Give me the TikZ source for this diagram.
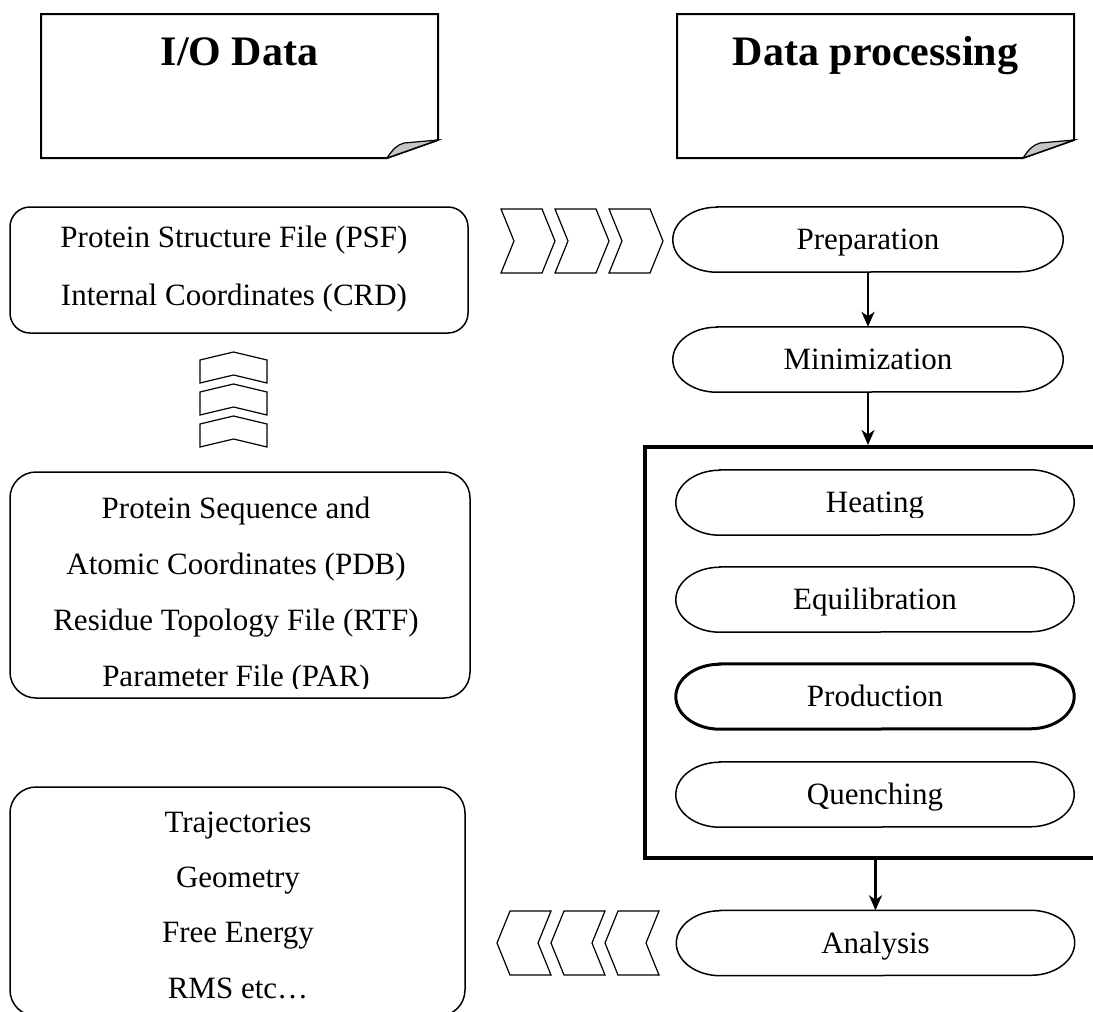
\documentclass[tikz,border=0pt]{standalone}
\usepackage{fontspec}
\setmainfont{Liberation Serif}
\usetikzlibrary{arrows.meta}
\newcommand{\stadium}[2]{%
  \draw[#2] ([xshift=44pt]#1.north west) -- ([xshift=-44pt]#1.north east)
    arc[start angle=-90, end angle=90, x radius=44, y radius=32.5]
    -- ([xshift=44pt]#1.south west)
    arc[start angle=90, end angle=270, x radius=44, y radius=32.5] -- cycle;}
\newcommand{\chevright}[3]{% x0, top, bottom
  \draw[chev] (#1,#2) -- ++(41,0) -- (#1+54,{(#2+#3)/2}) -- (#1+41,#3) -- (#1,#3) -- (#1+13,{(#2+#3)/2}) -- cycle;}
\newcommand{\chevleft}[3]{% x0, top, bottom
  \draw[chev] (#1,{(#2+#3)/2}) -- (#1+13,#2) -- (#1+54,#2) -- (#1+41,{(#2+#3)/2}) -- (#1+54,#3) -- (#1+13,#3) -- cycle;}
\newcommand{\chevup}[1]{% peak y
  \draw[chev] (233.5,#1) -- (267,#1+8) -- (267,#1+31) -- (233.5,#1+23) -- (200,#1+31) -- (200,#1+8) -- cycle;}
\begin{document}
\begin{tikzpicture}[x=1pt,y=-1pt,
  titletext/.style={font=\fontsize{42}{50}\selectfont\bfseries, anchor=base, inner sep=0pt},
  body/.style={font=\fontsize{31}{36}\selectfont, anchor=base, inner sep=0pt},
  iobox/.style={draw, line width=1.5pt},
  oval/.style={minimum width=390pt, minimum height=65pt, inner sep=0pt,
    font=\fontsize{31}{36}\selectfont, text height=20.5pt, text depth=0pt},
  ovalline/.style={line width=1.5pt},
  chev/.style={draw, line width=1.2pt, line join=miter},
  flow/.style={line width=2.4pt, -{Stealth[length=15pt,width=13pt,inset=4.5pt]}},
  notefold/.style={fill=gray!45, draw, line width=1.2pt}]
\clip (0,0) rectangle (1093,1012);
\fill[white] (0,0) rectangle (1093,1012);

% title notes
\draw[line width=2pt] (41,14) -- (438,14) -- (438,140) -- (387,158) -- (41,158) -- cycle;
\filldraw[notefold] (387,158) .. controls (393,149) and (397,145) .. (404,143) -- (438,140) -- cycle;
\node[titletext] (iotitle) at (239.5,65) {I/O Data};

\draw[line width=2pt] (677,14) -- (1074,14) -- (1074,140) -- (1023,158) -- (677,158) -- cycle;
\filldraw[notefold] (1023,158) .. controls (1029,149) and (1033,145) .. (1040,143) -- (1074,140) -- cycle;
\node[titletext] (dptitle) at (875.5,65) {Data processing};

% left boxes
\node[iobox, rounded corners=20pt, minimum width=458pt, minimum height=126pt] (psf) at (239,270) {};
\node[body] (psfa) at (234,247) {Protein Structure File (PSF)};
\node[body] (psfb) at (234,305) {Internal Coordinates (CRD)};

\chevup{352}
\chevup{384}
\chevup{416}

\node[iobox, rounded corners=26pt, minimum width=460pt, minimum height=226pt] (pdb) at (240,585) {};
\begin{scope}
\clip (0,460) rectangle (480,688);
\node[body] (pdba) at (236,518) {Protein Sequence and};
\node[body] (pdbb) at (236,574) {Atomic Coordinates (PDB)};
\node[body] (pdbc) at (236,630) {Residue Topology File (RTF)};
\node[body] (pdbd) at (236,686) {Parameter File (PAR)};
\end{scope}

\node[iobox, rounded corners=26pt, minimum width=455pt, minimum height=229pt] (res) at (237.5,901.5) {};
\node[body] (resa) at (238,832) {Trajectories};
\node[body] (resb) at (238,887) {Geometry};
\node[body] (resc) at (238,942) {Free Energy};
\node[body] (resd) at (238,998) {RMS etc…};

% chevrons
\chevright{501}{209}{273}
\chevright{555}{209}{273}
\chevright{609}{209}{273}
\chevleft{497}{911}{975}
\chevleft{551}{911}{975}
\chevleft{605}{911}{975}

% processing flow
\node[oval] (prep) at (868,239.5) {Preparation};
\stadium{prep}{ovalline}
\node[oval] (mini) at (868,359.5) {Minimization};
\stadium{mini}{ovalline}

\node[draw, line width=4pt, minimum width=460pt, minimum height=411pt, inner sep=0pt] (stage) at (875,652.5) {};

\begin{scope}
\clip (600,460) rectangle (1093,517);
\node[oval, minimum width=398pt] (heat) at (875,502.5) {Heating};
\end{scope}
\stadium{heat}{ovalline}
\node[oval, minimum width=398pt] (equi) at (875,599.5) {Equilibration};
\stadium{equi}{ovalline}
\node[oval, minimum width=398pt] (prod) at (875,696.5) {Production};
\stadium{prod}{line width=3pt}
\node[oval, minimum width=398pt] (quen) at (875,794.5) {Quenching};
\stadium{quen}{ovalline}

\node[oval, minimum width=398pt] (ana) at (875.5,943) {Analysis};
\stadium{ana}{ovalline}

\draw[flow] (prep.south) -- (mini.north);
\draw[flow] (mini.south) -- (mini.south |- stage.north);
\draw[flow] (ana.north |- stage.south) -- (ana.north);
\end{tikzpicture}
\end{document}
